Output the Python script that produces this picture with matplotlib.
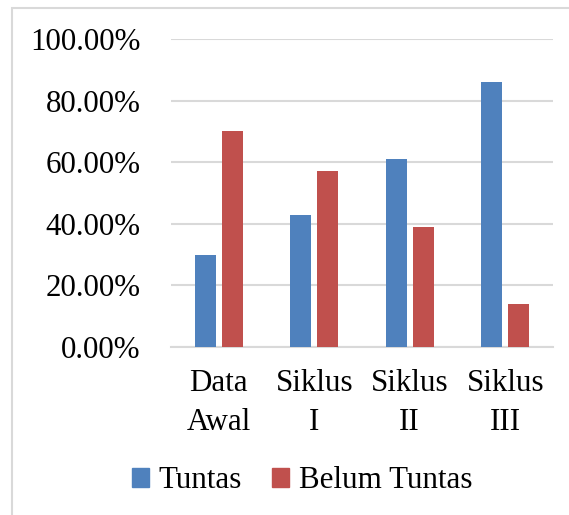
import numpy as np
from matplotlib import pyplot as plt
from matplotlib.patches import Rectangle, Patch

categories = ['Data\nAwal', 'Siklus\nI', 'Siklus\nII', 'Siklus\nIII']
tuntas = [30, 43, 61, 86]
belum_tuntas = [70, 57, 39, 14]
yticks = [0, 20, 40, 60, 80, 100]

blue = '#4F81BD'
red = '#C0504D'
grid = '#D9D9D9'

plt.rcParams['font.family'] = ['Liberation Serif', 'DejaVu Serif']
fs = 22.3

fig = plt.figure(figsize=(5.69, 5.15), dpi=100)
ax = fig.add_axes([171/569, 1-347/515, (553-171)/569, (347-39)/515])

x = np.arange(len(categories))
w = 0.22
ax.bar(x - 0.14, tuntas, w, color=blue, zorder=3)
ax.bar(x + 0.14, belum_tuntas, w, color=red, zorder=3)

ax.set_xlim(-0.5, len(categories) - 0.5)
ax.set_ylim(0, 100)
ax.set_yticks(yticks)
ax.set_yticklabels(['%.2f%%' % v for v in yticks], fontsize=fs)
ax.set_xticks(x)
ax.set_xticklabels(categories, fontsize=fs, linespacing=1.45)
ax.tick_params(axis='y', length=0, pad=22)
ax.tick_params(axis='x', length=0, pad=16)
ax.yaxis.grid(True, color=grid, linewidth=1.5, zorder=0)
for s in ['top', 'right', 'left']:
    ax.spines[s].set_visible(False)
ax.spines['bottom'].set_color(grid)
ax.spines['bottom'].set_linewidth(1.5)

handles = [Patch(color=blue, label='Tuntas'), Patch(color=red, label='Belum Tuntas')]
fig.legend(handles=handles, loc='center', bbox_to_anchor=(302/569, 1-481/515), ncol=2,
           frameon=False, fontsize=fs, handlelength=0.55, handleheight=0.55,
           handletextpad=0.3, columnspacing=1.0)

fig.patches.append(Rectangle((12/569, -0.05), 1.1, 1.05 - 8/515, transform=fig.transFigure,
                             fill=False, edgecolor=grid, linewidth=1.5))

fig.savefig('out.png', dpi=100)
